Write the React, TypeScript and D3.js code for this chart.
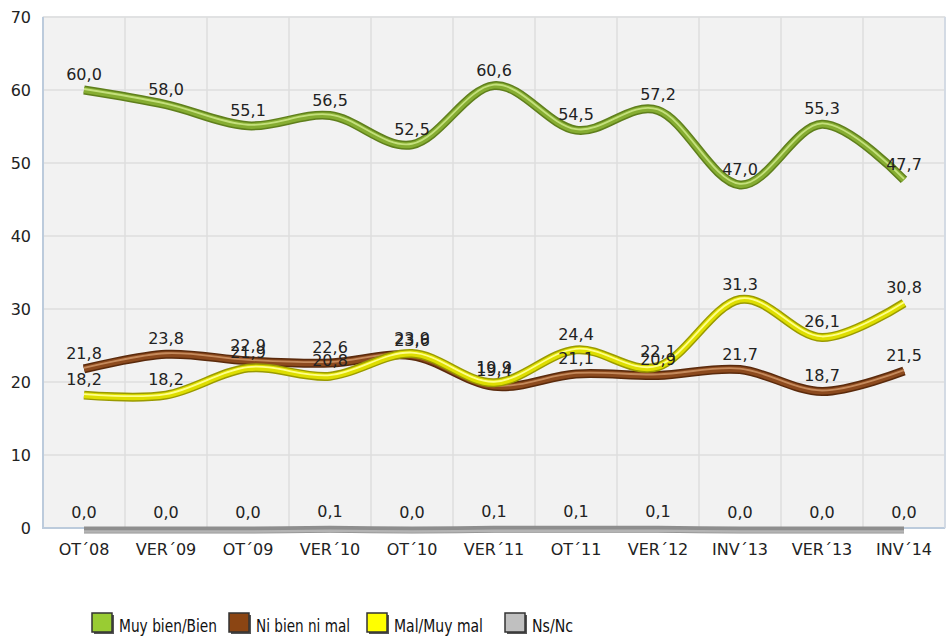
import React from "react";
import * as d3 from "d3";

const categories = ["OT´08", "VER´09", "OT´09", "VER´10", "OT´10", "VER´11", "OT´11", "VER´12", "INV´13", "VER´13", "INV´14"];
const muyBien = [60.0, 58.0, 55.1, 56.5, 52.5, 60.6, 54.5, 57.2, 47.0, 55.3, 47.7];
const niBien = [21.8, 23.8, 22.9, 22.6, 23.6, 19.4, 21.1, 20.9, 21.7, 18.7, 21.5];
const malMuyMal = [18.2, 18.2, 21.9, 20.8, 23.9, 19.9, 24.4, 22.1, 31.3, 26.1, 30.8];
const nsNc = [0.0, 0.0, 0.0, 0.1, 0.0, 0.1, 0.1, 0.1, 0.0, 0.0, 0.0];
const yTicks = [0, 10, 20, 30, 40, 50, 60, 70];
const seriesNames = ["Muy bien/Bien", "Ni bien ni mal", "Mal/Muy mal", "Ns/Nc"];

const W = 952;
const H = 642;
const left = 43;
const right = 945;
const top = 17;
const bottom = 528;

const font = "'DejaVu Sans', sans-serif";

const styles = [
  { edge: "#5f7f1c", main: "#86ad32", light: "#c4e07c", box: "#99cc33" },
  { edge: "#5a2a0c", main: "#8c4a1e", light: "#c58a5c", box: "#8b4513" },
  { edge: "#9a9a00", main: "#dede00", light: "#ffff8a", box: "#ffff00" },
  { edge: "#8a8a8a", main: "#a6a6a6", light: "#c8c8c8", box: "#c0c0c0" },
];

const legendX = [92, 229, 367, 505];
const legendW = [98, 94, 89, 41];

export default function App() {
  const x = d3.scalePoint<string>().domain(categories).range([left, right]).padding(0.5);
  const y = d3.scaleLinear().domain([0, 70]).range([bottom, top]);
  const band = (right - left) / categories.length;

  const line = d3
    .line<number>()
    .x((_, i) => x(categories[i]) as number)
    .y((d) => y(d))
    .curve(d3.curveCatmullRom.alpha(0));

  const series = [muyBien, niBien, malMuyMal];
  const fmt = (v: number) => v.toFixed(1).replace(".", ",");

  return (
    <svg
      width={W}
      height={H}
      style={{ position: "absolute", left: 0, top: 0, background: "#fff" }}
      fontFamily={font}
    >
      <rect x={left} y={top} width={right - left} height={bottom - top} fill="#f2f2f2" stroke="#d8dfe8" strokeWidth={1} />
      {yTicks.map((t) => (
        <line key={"g" + t} x1={left} x2={right} y1={y(t)} y2={y(t)} stroke="#dedede" strokeWidth={1.5} />
      ))}
      {categories.map((c, i) => (
        <line key={"v" + c} x1={left + band * (i + 1)} x2={left + band * (i + 1)} y1={top} y2={bottom} stroke="#dedede" strokeWidth={1.5} />
      ))}
      <line x1={left} x2={left} y1={top} y2={bottom + 1} stroke="#bccbdc" strokeWidth={2} />
      <line x1={left} x2={right} y1={bottom} y2={bottom} stroke="#bccbdc" strokeWidth={2} />
      <line x1={right} x2={right} y1={top} y2={bottom} stroke="#cfd9e4" strokeWidth={1.5} />
      {yTicks.map((t) => (
        <text key={"yt" + t} x={31} y={y(t) + 6} textAnchor="end" fontSize={16} fill="#222">
          {t}
        </text>
      ))}
      {categories.map((c) => (
        <text key={"xt" + c} x={x(c)} y={555} textAnchor="middle" fontSize={16} fill="#222">
          {c}
        </text>
      ))}
      {series.map((s, k) => (
        <g key={"s" + k}>
          <path d={line(s) || ""} fill="none" stroke={styles[k].edge} strokeWidth={9} strokeLinecap="butt" />
          <path d={line(s) || ""} fill="none" stroke={styles[k].main} strokeWidth={6} strokeLinecap="butt" />
          <path d={line(s) || ""} fill="none" stroke={styles[k].light} strokeWidth={1.8} strokeLinecap="butt" transform="translate(0,-1)" />
        </g>
      ))}
      <g>
        <path d={line(nsNc) || ""} fill="none" stroke="#8e8e8e" strokeWidth={7} transform="translate(0,2)" />
        <path d={line(nsNc) || ""} fill="none" stroke="#b4b4b4" strokeWidth={2.5} transform="translate(0,3.5)" />
      </g>
      {[muyBien, niBien, malMuyMal, nsNc].map((s, k) => (
        <g key={"l" + k}>
          {s.map((v, i) => (
            <text key={i} x={x(categories[i])} y={y(v) - 10} textAnchor="middle" fontSize={16} fill="#222">
              {fmt(v)}
            </text>
          ))}
        </g>
      ))}
      {seriesNames.map((n, k) => (
        <g key={"lg" + n}>
          <rect x={legendX[k] + 2} y={615} width={20} height={19} fill="#555" />
          <rect x={legendX[k]} y={613} width={20} height={19} fill={styles[k].box} stroke="#333" strokeWidth={1.5} />
          <text x={legendX[k] + 27} y={632} fontSize={17} fill="#111" textLength={legendW[k]} lengthAdjust="spacingAndGlyphs">
            {n}
          </text>
        </g>
      ))}
    </svg>
  );
}
